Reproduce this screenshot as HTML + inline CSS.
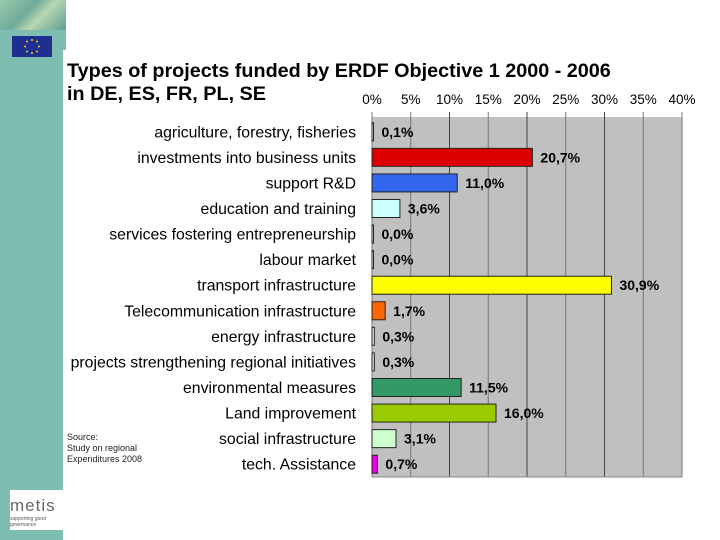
<!DOCTYPE html>
<html><head><meta charset="utf-8"><style>
body{margin:0;width:720px;height:540px;overflow:hidden;background:#fff;font-family:"Liberation Sans",sans-serif;position:relative}
.side{position:absolute;left:0;top:0;width:63px;height:540px;background:#7dbdb2}
.side2{position:absolute;left:0;top:0;width:66px;height:50px;background:#7dbdb2}
.tex{position:absolute;left:0;top:0;width:66px;height:30px;background:linear-gradient(135deg,#9bc9a8,#6faa9a 40%,#b7d6b0 60%,#5f9e93)}
.flag{position:absolute;left:12px;top:36px;width:40px;height:21px;background:#1e2f8f}
.title{position:absolute;left:67px;top:60px;font-weight:bold;font-size:19.8px;line-height:23px;color:#000}
.src{position:absolute;left:67px;top:432px;font-size:9px;line-height:11px;color:#222}
.logo{position:absolute;left:10px;top:490px;width:56px;height:40px;background:#fff}
</style></head><body>
<div class="side"></div>
<div class="side2"></div>
<div class="tex"></div>
<div class="flag"><svg width="40" height="21"><g fill="#fc0"><circle cx="20" cy="4" r="1"/><circle cx="25" cy="5.5" r="1"/><circle cx="27" cy="10.5" r="1"/><circle cx="25" cy="15.5" r="1"/><circle cx="20" cy="17" r="1"/><circle cx="15" cy="15.5" r="1"/><circle cx="13" cy="10.5" r="1"/><circle cx="15" cy="5.5" r="1"/></g></svg></div>
<div class="title">Types of projects funded by ERDF Objective 1 2000 - 2006<br>in DE, ES, FR, PL, SE</div>
<div class="src">Source:<br>Study on regional<br>Expenditures 2008</div>
<div class="logo"><div style="font-size:17px;color:#666;margin-top:6px;letter-spacing:1px">metis</div><div style="font-size:5px;color:#555">supporting good governance</div></div>
<svg id="chart" width="720" height="540" style="position:absolute;left:0;top:0"></svg>
<script>
const categories=["agriculture, forestry, fisheries","investments into business units","support R&D","education and training","services fostering entrepreneurship","labour market","transport infrastructure","Telecommunication infrastructure","energy infrastructure","projects strengthening regional initiatives","environmental measures","Land improvement","social infrastructure","tech. Assistance"];
const values=[0.1,20.7,11.0,3.6,0.0,0.0,30.9,1.7,0.3,0.3,11.5,16.0,3.1,0.7];
const valueLabels=["0,1%","20,7%","11,0%","3,6%","0,0%","0,0%","30,9%","1,7%","0,3%","0,3%","11,5%","16,0%","3,1%","0,7%"];
const colors=["#ffffff","#dd0000","#3366ee","#ccffff","#ffffff","#ffffff","#ffff00","#ff6600","#fff0d0","#dddddd","#339966","#99cc00","#ccffcc","#ee00ee"];
const ticks=[0,5,10,15,20,25,30,35,40];
const tickLabels=["0%","5%","10%","15%","20%","25%","30%","35%","40%"];
const svg=document.getElementById('chart');const NS='http://www.w3.org/2000/svg';
const X0=372,X1=682,Y0=119,Y1=477;
const x=v=>X0+(v/40)*(X1-X0);
const band=(Y1-Y0)/categories.length;
const y=i=>Y0+band*i;
function mk(t,a){const e=document.createElementNS(NS,t);for(const k in a)e.setAttribute(k,a[k]);svg.appendChild(e);return e;}
let bg=mk('rect',{x:X0,y:117,width:X1-X0,height:Y1-117,fill:'#c0c0c0'});


ticks.forEach((t,i)=>{
 const l=mk('line',{x1:x(t),x2:x(t),y1:112,y2:Y1,stroke:(t%10===0&&t>0&&t<40)?'#444':'#777','stroke-width':1});
 
 
 const tx=mk('text',{x:x(t),y:104,'text-anchor':'middle','font-size':13.5,fill:'#000'});tx.textContent=tickLabels[i];
 
 
});
const ax=mk('line',{x1:X0,x2:X1,y1:Y1,y2:Y1,stroke:'#888'});
categories.forEach((c,i)=>{
 const cy=y(i)+band/2;
 const lab=mk('text',{x:356,y:cy+5.5,'text-anchor':'end','font-size':15.8,fill:'#000'});lab.textContent=c;
 
 
 const w=Math.max(x(values[i])-X0,1.5);
 const b=mk('rect',{x:X0,y:cy-9,width:w,height:18,fill:colors[i],stroke:'#222','stroke-width':1});
 
 
 const v=mk('text',{x:X0+w+8,y:cy+5,'font-size':14,'font-weight':'bold',fill:'#000'});v.textContent=valueLabels[i];
 
 
});
</script>
</body></html>
